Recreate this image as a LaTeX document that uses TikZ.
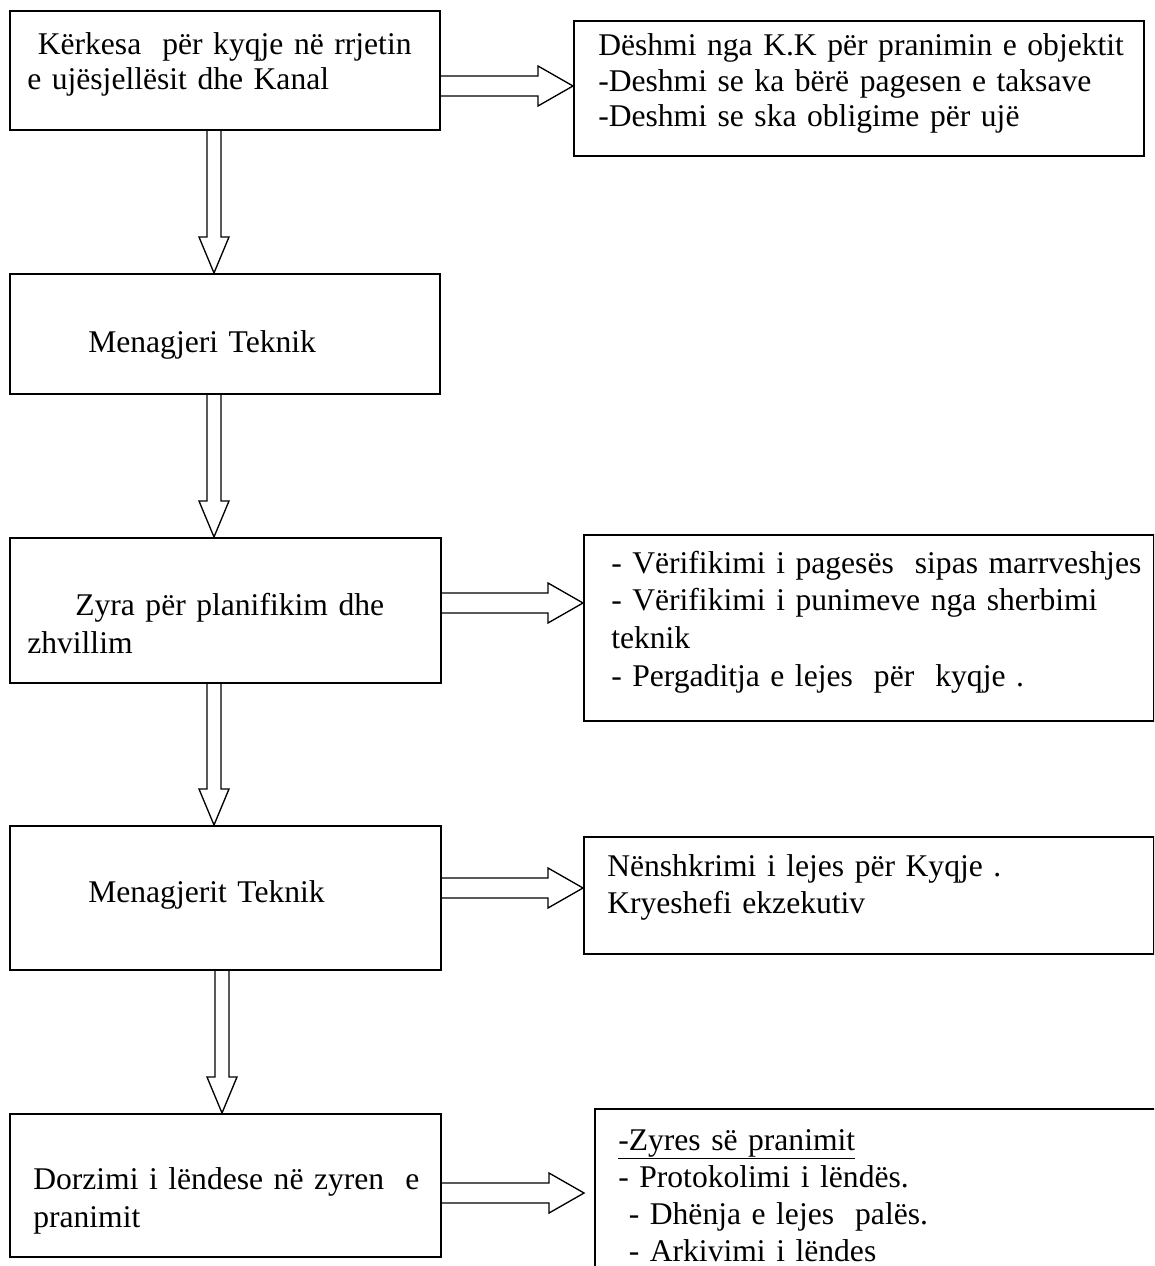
\documentclass[tikz,border=0pt]{standalone}
\usepackage{fontspec}
\setmainfont{Liberation Serif}
\usetikzlibrary{calc}

\tikzset{
  box/.style={draw, line width=1.3pt, inner sep=0pt, anchor=north west},
  txt/.style={font=\fontsize{23.7}{#1}\selectfont, inner sep=0pt, anchor=base west, text width=560pt, align=left},
  txt/.default=28pt,
  hollow/.style={line width=1pt, line join=miter}
}

% hollow arrow pointing down, from node #1 to node #2, shaft at x = #3
\newcommand{\downarr}[3]{%
  \path (#1.south -| #3,0) coordinate (s) (#2.north -| #3,0) coordinate (t);
  \draw[hollow] ($(s)+(-7,0)$) -- ($(t)+(-7,-36)$) -- ($(t)+(-15,-36)$) -- (t)
    -- ($(t)+(15,-36)$) -- ($(t)+(7,-36)$) -- ($(s)+(7,0)$);}
% hollow arrow pointing right, from node #2 to node #3 at y = #4, tip set back by #1
\newcommand{\rightarr}[4][0]{%
  \path (#2.east |- 0,#4) coordinate (s) ($(#3.west |- 0,#4)+(-#1,0)$) coordinate (t);
  \draw[hollow] ($(s)+(0,-10)$) -- ($(t)+(-35,-10)$) -- ($(t)+(-35,-20)$) -- (t)
    -- ($(t)+(-35,20)$) -- ($(t)+(-35,10)$) -- ($(s)+(0,10)$);}

\begin{document}
\begin{tikzpicture}[x=0.75pt,y=0.75pt,yscale=-1]
\clip (0,0) rectangle (1154,1266);

%Shape: Rectangle [id:dp1]
\node[box, minimum width=322.5pt, minimum height=89.25pt] (kerkesa) at (9,10) {};
\node[txt=26.25pt] (kerkesa-txt) at (27,55) {\ Kërkesa~ për kyqje në rrjetin\\e ujësjellësit dhe Kanal};
%Shape: Rectangle [id:dp2]
\node[box, minimum width=427.5pt, minimum height=101.25pt] (deshmi) at (573,20) {};
\node[txt=26.6pt] (deshmi-txt) at (598,56) {Dëshmi nga K.K për pranimin e objektit\\-Deshmi se ka bërë pagesen e taksave\\-Deshmi se ska obligime për ujë};

%Shape: Rectangle [id:dp3]
\node[box, minimum width=322.5pt, minimum height=90pt] (menagjeri) at (9,273) {};
\node[txt] (menagjeri-txt) at (88,352) {Menagjeri Teknik};

%Shape: Rectangle [id:dp4]
\node[box, minimum width=323.25pt, minimum height=108.75pt] (zyra) at (9,537) {};
\node[txt=28.5pt] (zyra-txt) at (27,615) {\hspace{36pt}Zyra për planifikim dhe\\zhvillim};
%Shape: Rectangle [id:dp5]
\node[box, minimum width=427.5pt, minimum height=139.5pt] (verifikimi) at (583,534) {};
\node[txt=28.3pt] (verifikimi-txt) at (611,573) {- Vërifikimi i pagesës~ sipas marrveshjes\\- Vërifikimi i punimeve nga sherbimi\\teknik\\- Pergaditja e lejes~ për~ kyqje .};

%Shape: Rectangle [id:dp6]
\node[box, minimum width=323.25pt, minimum height=108pt] (menagjerit) at (9,825) {};
\node[txt] (menagjerit-txt) at (88,902) {Menagjerit Teknik};
%Shape: Rectangle [id:dp7]
\node[box, minimum width=427.5pt, minimum height=87.75pt] (nenshkrimi) at (583,836) {};
\node[txt] (nenshkrimi-txt) at (607,876) {Nënshkrimi i lejes për Kyqje .\\Kryeshefi ekzekutiv};

%Shape: Rectangle [id:dp8]
\node[box, minimum width=323.25pt, minimum height=107.25pt] (dorzimi) at (9,1113) {};
\node[txt=28.5pt] (dorzimi-txt) at (33,1189) {Dorzimi i lëndese në zyren~ e\\pranimit};
%Shape: Rectangle [id:dp9]
\node[box, minimum width=450pt, minimum height=135pt] (pranimi) at (594,1108) {};
\node[txt=27.75pt] (pranimi-txt) at (618,1150) {\underline{-Zyres së pranimit}\\- Protokolimi i lëndës.\\\ - Dhënja e lejes~ palës.\\\ - Arkivimi i lëndes};

%Block Arrows [id:da1]
\downarr{kerkesa}{menagjeri}{214}
\downarr{menagjeri}{zyra}{214}
\downarr{zyra}{menagjerit}{214}
\downarr{menagjerit}{dorzimi}{222}
%Right Arrows [id:da2]
\rightarr{kerkesa}{deshmi}{86}
\rightarr{zyra}{verifikimi}{603}
\rightarr{menagjerit}{nenshkrimi}{888}
\rightarr[10]{dorzimi}{pranimi}{1193}

\end{tikzpicture}
\end{document}
